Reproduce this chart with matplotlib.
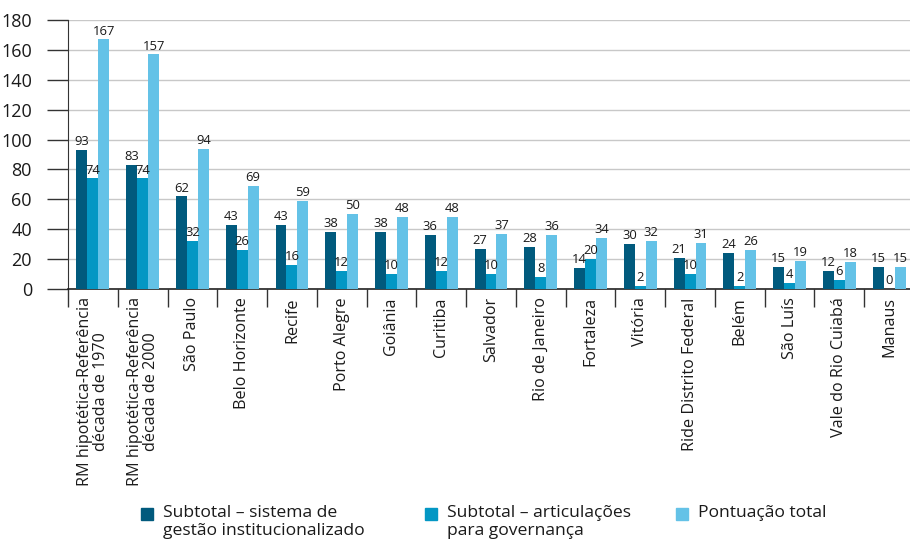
import matplotlib
matplotlib.use("Agg")
import matplotlib.pyplot as plt
import numpy as np

plt.rcParams['font.family'] = ['Open Sans', 'DejaVu Sans']

categories = [
    "RM hipotética-Referência\ndécada de 1970",
    "RM hipotética-Referência\ndécada de 2000",
    "São Paulo", "Belo Horizonte", "Recife", "Porto Alegre", "Goiânia",
    "Curitiba", "Salvador", "Rio de Janeiro", "Fortaleza", "Vitória",
    "Ride Distrito Federal", "Belém", "São Luís", "Vale do Rio Cuiabá", "Manaus",
]
sistema = [93, 83, 62, 43, 43, 38, 38, 36, 27, 28, 14, 30, 21, 24, 15, 12, 15]
articulacoes = [74, 74, 32, 26, 16, 12, 10, 12, 10, 8, 20, 2, 10, 2, 4, 6, 0]
total = [167, 157, 94, 69, 59, 50, 48, 48, 37, 36, 34, 32, 31, 26, 19, 18, 15]
series_names = ["Subtotal – sistema de\ngestão institucionalizado",
                "Subtotal – articulações\npara governança",
                "Pontuação total"]
y_ticks = [0, 20, 40, 60, 80, 100, 120, 140, 160, 180]

colors = ["#015a7d", "#0397c4", "#64c2e7"]
text_color = "#1a1a1a"

fig = plt.figure(figsize=(9.10, 5.43), dpi=100)
ax = fig.add_axes([68 / 910, 1 - 289 / 543, (914 - 68) / 910, (289 - 20) / 543])

n = len(categories)
x = np.arange(n)
w = 0.22
for i, (vals, c) in enumerate(zip([sistema, articulacoes, total], colors)):
    pos = x + (i - 1) * w
    ax.bar(pos, vals, width=w, color=c, edgecolor="none", zorder=3)
    for xp, v in zip(pos, vals):
        ax.text(xp, v + 1.2, str(v), ha="center", va="bottom",
                fontsize=9.4, color=text_color, zorder=4)

ax.set_xlim(-0.5, n - 0.5)
ax.set_ylim(0, 180)
ax.set_yticks(y_ticks)
ax.set_yticklabels([str(t) for t in y_ticks], fontsize=13, color=text_color)
ax.tick_params(axis="y", length=15, width=1, color="#333333", pad=11)
ax.yaxis.grid(True, color="#c8c8c8", linewidth=1, zorder=0)

# category separators as x ticks, labels at category centers
ax.set_xticks(np.arange(n + 1) - 0.5)
ax.set_xticklabels([""] * (n + 1))
ax.tick_params(axis="x", which="major", length=13, width=1, color="#333333")
ax.set_xticks(x, minor=True)
ax.set_xticklabels(categories, minor=True, rotation=90, fontsize=11.6,
                   color=text_color, ha="center", va="top", linespacing=1.0)
ax.tick_params(axis="x", which="minor", length=0, pad=6)

for side in ["top", "right"]:
    ax.spines[side].set_visible(False)
ax.spines["left"].set_color("#333333")
ax.spines["bottom"].set_color("#222222")
ax.spines["bottom"].set_linewidth(1.2)

# legend drawn as patches and text in figure coordinates
leg_x = [141, 425, 676]
for lx, name, c in zip(leg_x, series_names, colors):
    fig.patches.append(plt.Rectangle((lx / 910, 1 - 520 / 543), 12 / 910, 12 / 543,
                                     transform=fig.transFigure, color=c))
    fig.text((lx + 22) / 910, 1 - 505 / 543, name, ha="left", va="top",
             fontsize=12.6, color=text_color, linespacing=1.2)

fig.savefig("out.png", dpi=100)
